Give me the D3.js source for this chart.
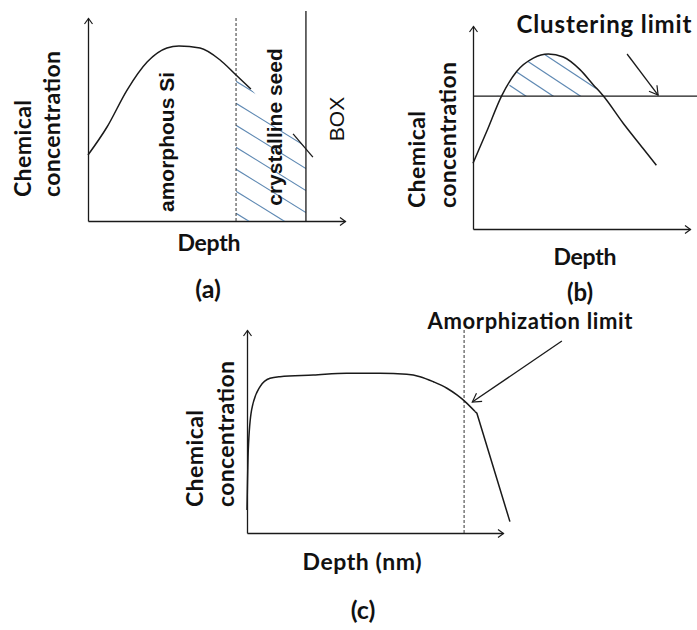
<!DOCTYPE html>
<html>
<head>
<meta charset="utf-8">
<script src="https://cdn.jsdelivr.net/npm/d3@7"></script>
<style>
  body { margin: 0; background: #fff; }
  .lbl { font-family: Lato, "Open Sans", sans-serif; font-weight: 700; fill: #111; }
  .inner { font-family: "Liberation Sans", Arial, sans-serif; fill: #111; }
</style>
</head>
<body>
<div class="report"></div>
<script>
// ---- data (each panel uses a 0..100 schematic scale) ----
// (a) amorphous Si / crystalline seed
var aCurve = [[0,32.5],[7.4,46.3],[15.2,64.5],[23.0,78.3],[30.7,85.2],[35.4,86.2],[43.6,85.2],[51.4,79.3],[57.6,71.9],[63.4,65.0]];
var aSeedTop = [[57.6,71.9],[63.4,65.0],[70.8,54.7],[79.8,42.9],[84.8,36.0]];
var aTailMark = [[79.8,42.9],[87.5,31.5]];
var aSeedStart = 57.6, aBox = 84.8;

// (b) clustering limit
var bCurve = [[0,32.4],[6.3,48.0],[13.2,65.6],[20.1,77.6],[27.8,84.2],[34.7,86.2],[41.6,84.7],[49.3,78.5],[55.4,71.1],[60.0,65.6],[69.2,52.1],[78.3,39.8],[84.5,31.4]];
var bLimit = 65.5;
var bArrow = [[71.0,86.2],[85.3,66.0]];

// (c) amorphization limit
var cCurve = [[0,11.3],[0.5,40.9],[1.8,60.6],[5.1,72.1],[9.0,76.2],[12.9,77.0],[25.9,77.8],[38.9,78.7],[51.9,78.7],[62.4,78.2],[67.6,77.0],[72.8,74.5],[78.1,71.3],[82.0,68.0],[85.2,64.7],[89.1,59.8]];
var cTail = [[89.1,59.8],[89.8,59.0],[102.7,5.6]];
var cLimit = 84.8;
var cArrow = [[123,94.6],[88,64.5]];

var yTitle = ["Chemical", "concentration"];
var xTitles = ["Depth", "Depth", "Depth (nm)"];
var panelTags = ["(a)", "(b)", "(c)"];

var ink = "#1a1a1a", hatch = "#5f89b3";

var svg = d3.select(".report").append("svg").attr("width", 697).attr("height", 630),
    defs = svg.append("defs");

function marker(id, len, half) {
    defs.append("marker").attr("id", id)
        .attr("markerUnits", "userSpaceOnUse")
        .attr("viewBox", "0 0 " + (len + 2) + " " + (half * 2 + 2))
        .attr("refX", len + 0.5).attr("refY", half + 1)
        .attr("markerWidth", len + 2).attr("markerHeight", half * 2 + 2)
        .attr("orient", "auto")
        .append("path")
        .attr("d", "M1,1L" + (len + 0.5) + "," + (half + 1) + "L1," + (half * 2 + 1))
        .attr("fill", "none").attr("stroke", ink).attr("stroke-width", 1.2);
}
marker("axarrow", 6, 4);
marker("annarrow", 9, 5);

function panel(xr, yr) {
    var x = d3.scaleLinear().domain([0, 100]).range(xr),
        y = d3.scaleLinear().domain([0, 100]).range(yr);
    var gx = svg.append("g").attr("transform", "translate(0," + yr[0] + ")")
        .call(d3.axisBottom(x).tickValues([]).tickSizeOuter(0));
    var gy = svg.append("g").attr("transform", "translate(" + xr[0] + ",0)")
        .call(d3.axisLeft(y).tickValues([]).tickSizeOuter(0));
    [gx, gy].forEach(function (g) {
        g.select(".domain").attr("stroke", ink).attr("stroke-width", 1.3)
            .attr("marker-end", "url(#axarrow)");
    });
    return {x: x, y: y};
}

function line(p, pts, curve, w) {
    return svg.append("path").datum(pts)
        .attr("d", d3.line().x(function (d) { return p.x(d[0]); })
            .y(function (d) { return p.y(d[1]); }).curve(curve || d3.curveLinear)(pts))
        .attr("fill", "none").attr("stroke", ink).attr("stroke-width", w || 1.5);
}

function hatchLines(id, clipD, box, slope, gap) {
    defs.append("clipPath").attr("id", id).append("path").attr("d", clipD);
    var g = svg.append("g").attr("clip-path", "url(#" + id + ")");
    var span = box[2] - box[0];
    for (var y0 = box[1] - slope * span; y0 < box[3]; y0 += gap) {
        g.append("line").attr("x1", box[0]).attr("y1", y0)
            .attr("x2", box[2]).attr("y2", y0 + slope * span)
            .attr("stroke", hatch).attr("stroke-width", 1.2);
    }
}

// rotated label; anchor "start" puts the first letter at y (text reads upwards)
function vText(x, y, txt, cls, size, weight, anchor, len) {
    var t = svg.append("text").attr("class", cls)
        .attr("transform", "translate(" + x + "," + y + ") rotate(-90)")
        .attr("text-anchor", anchor || "middle").attr("dy", "0.35em")
        .style("font-size", size + "px").style("font-weight", weight || null)
        .text(txt);
    if (len) t.attr("textLength", len).attr("lengthAdjust", "spacing");
    return t;
}
function hText(x, y, txt, size, len) {
    var t = svg.append("text").attr("class", "lbl").attr("x", x).attr("y", y)
        .attr("text-anchor", "middle").style("font-size", size + "px").text(txt);
    if (len) t.attr("textLength", len).attr("lengthAdjust", "spacing");
    return t;
}
function yTitles(xc, xn, bottom) {
    vText(xc, bottom, yTitle[0], "lbl", 23, null, "start", 97);
    vText(xn, bottom, yTitle[1], "lbl", 23, null, "start", 146);
}

// ---------- panel (a) ----------
var pa = panel([88, 345], [221, 18]);
var seedPoly = aSeedTop.concat([[aBox, 0], [aSeedStart, 0]]);
hatchLines("clipA", d3.line().x(function (d) { return pa.x(d[0]); }).y(function (d) { return pa.y(d[1]); })
    .curve(d3.curveLinearClosed)(seedPoly), [pa.x(aSeedStart), pa.y(80), pa.x(aBox), pa.y(0)], 0.62, 22);
svg.append("line").attr("x1", pa.x(aSeedStart)).attr("x2", pa.x(aSeedStart))
    .attr("y1", pa.y(0)).attr("y2", pa.y(100.5))
    .attr("stroke", "#333").attr("stroke-width", 1).attr("stroke-dasharray", "3,2");
svg.append("line").attr("x1", pa.x(aBox)).attr("x2", pa.x(aBox))
    .attr("y1", pa.y(0)).attr("y2", pa.y(103.5))
    .attr("stroke", ink).attr("stroke-width", 1.3);
line(pa, aCurve, d3.curveMonotoneX);
line(pa, aTailMark, d3.curveLinear, 1.3);
vText(167, 142, "amorphous Si", "inner", 21, 700);
vText(275, 127, "crystalline seed", "inner", 21, 700);
vText(337, 119, "BOX", "inner", 21, 400);
yTitles(23, 52, 197);
hText(209, 251, xTitles[0], 23, 63);
hText(208, 298, panelTags[0], 25);

// ---------- panel (b) ----------
var pb = panel([473, 690], [229, 26]);
var bArea = d3.area().x(function (d) { return pb.x(d[0]); })
    .y0(pb.y(bLimit))
    .y1(function (d) { return pb.y(Math.max(d[1], bLimit)); })
    .curve(d3.curveMonotoneX);
hatchLines("clipB", bArea(bCurve), [pb.x(10), pb.y(90), pb.x(65), pb.y(bLimit)], 0.66, 18);
svg.append("line").attr("x1", pb.x(0)).attr("x2", 697)
    .attr("y1", pb.y(bLimit)).attr("y2", pb.y(bLimit))
    .attr("stroke", ink).attr("stroke-width", 1.3);
line(pb, bCurve, d3.curveMonotoneX);
line(pb, bArrow, d3.curveLinear, 1.3).attr("marker-end", "url(#annarrow)");
hText(604, 33, "Clustering limit", 24, 175);
yTitles(417, 448, 208);
hText(585, 265, xTitles[1], 23, 63);
hText(580, 301, panelTags[1], 24);

// ---------- panel (c) ----------
var pc = panel([247, 503], [533, 330]);
svg.append("line").attr("x1", pc.x(cLimit)).attr("x2", pc.x(cLimit))
    .attr("y1", pc.y(0)).attr("y2", pc.y(100))
    .attr("stroke", "#333").attr("stroke-width", 1).attr("stroke-dasharray", "3,2");
line(pc, cCurve, d3.curveMonotoneX);
line(pc, cTail, d3.curveLinear);
line(pc, cArrow, d3.curveLinear, 1.3).attr("marker-end", "url(#annarrow)");
hText(530, 329, "Amorphization limit", 22, 205);
yTitles(195, 226, 507);
hText(362, 570, xTitles[2], 23, 119);
hText(363, 619, panelTags[2], 25);
</script>
</body>
</html>
